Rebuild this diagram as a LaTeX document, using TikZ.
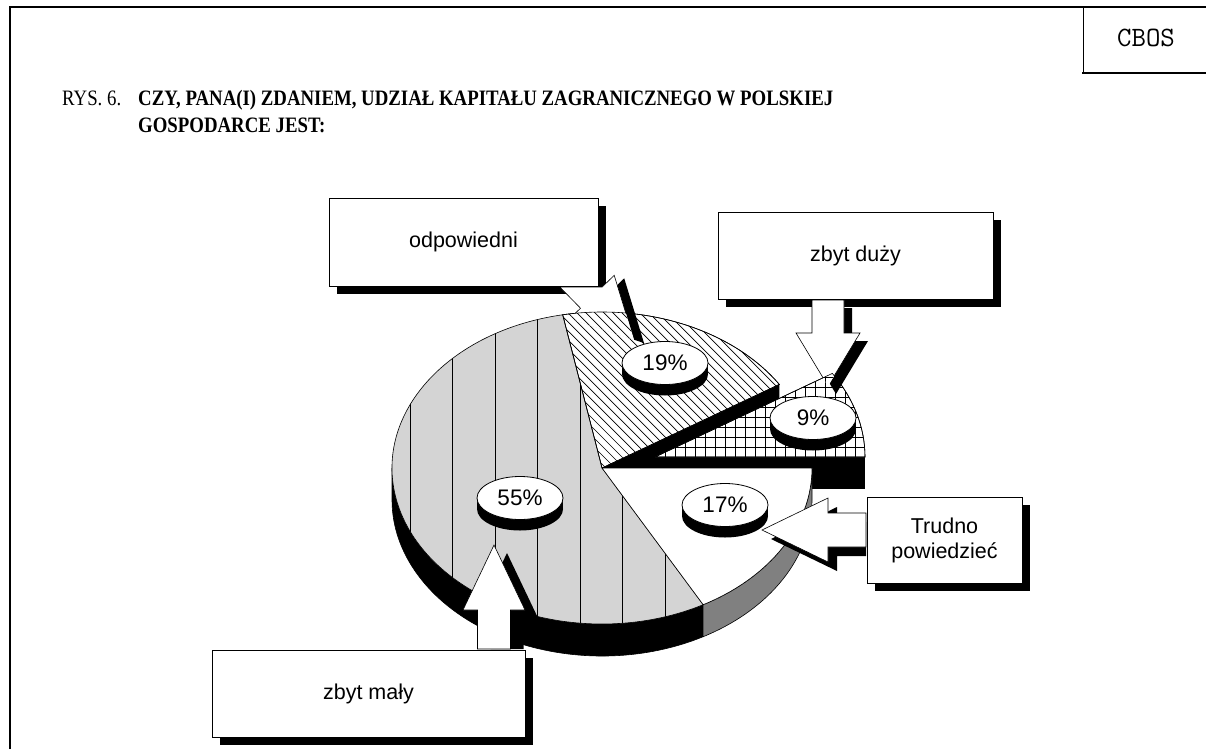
\documentclass[tikz,border=0pt]{standalone}
\usepackage{fontspec}
\setmainfont{Liberation Serif}
\setsansfont{Liberation Sans}
\usetikzlibrary{calc,shadows,shapes.geometric}

\tikzset{
  callout/.style={draw, fill=white, line width=0.8pt, inner sep=0pt, align=center,
    font=\sffamily\fontsize{21.5}{25}\selectfont,
    drop shadow={shadow xshift=8pt, shadow yshift=-8pt, fill=black, opacity=1}},
  pct/.style={ellipse, draw, fill=white, line width=0.8pt, inner sep=0pt,
    minimum width=86pt, minimum height=43pt, font=\sffamily\fontsize{22.5}{26}\selectfont},
  heading/.style={anchor=base west, inner sep=0pt, xscale=0.855, transform shape},
  blockarrow/.style={fill=white},
  arrowline/.style={draw, line width=0.6pt, line join=miter},
  arrowshade/.style={fill=black},
  slice/.style={draw, line width=0.6pt},
  hatchline/.style={line width=0.7pt}
}

% slice outlines (pixel units, y downwards)
\def\topNineteen{(602,468) -- ({602+210*cos(32.4)},{468-156*sin(32.4)}) arc[start angle=-32.4, end angle=-100.8, x radius=210, y radius=156] -- cycle}
\def\topNine{(655,457) -- (865,457) arc[start angle=0, end angle=-32.4, x radius=210, y radius=156] -- cycle}
\def\topFiftyFive{(602,468) -- ({602+210*cos(100.8)},{468-156*sin(100.8)}) arc[start angle=-100.8, end angle=-298.8, x radius=210, y radius=156] -- cycle}
\def\topSeventeen{(602,468) -- ({602+210*cos(298.8)},{468-156*sin(298.8)}) arc[start angle=-298.8, end angle=-360, x radius=210, y radius=156] -- cycle}

% block arrows, relative to their tips
\def\arrowOdp{(-74.2,-53) -- (-53.5,-31.8) -- (-64.2,-21.3) -- (0,0) -- (-19.8,-64.7) -- (-31.8,-53) -- cycle}
\def\arrowZd{(-16,-86) -- (-16,-53) -- (-32,-53) -- (0,0) -- (32,-53) -- (16,-53) -- (16,-86) -- cycle}
\def\arrowZm{(-16.5,104) -- (-16.5,65) -- (-31,65) -- (0,0) -- (31,65) -- (16.5,65) -- (16.5,104) -- cycle}
\def\arrowZmShade{(-16.5,96) -- (-16.5,65) -- (-31,65) -- (0,0) -- (31,65) -- (16.5,65) -- (16.5,96) -- cycle}
\def\arrowTp{(104,-17) -- (66,-17) -- (66,-32) -- (0,0) -- (66,32) -- (66,17) -- (104,17) -- cycle}
\def\arrowTpShade{(95,-17) -- (66,-17) -- (66,-32) -- (0,0) -- (66,32) -- (66,17) -- (95,17) -- cycle}

\begin{document}
\begin{tikzpicture}[x=1pt, y=-1pt]
\useasboundingbox (0,0) rectangle (1206,749);

% frame and heading
\draw[line width=2.2pt] (10,749) -- (10,7) -- (1206,7);
\draw[line width=1pt] (1083,7) -- (1083,73);
\draw[line width=2pt] (1082,73) -- (1206,73);
\node[font=\ttfamily\fontsize{28}{32}\selectfont] (cbos) at (1146,38) {CBOS};
\node[heading, font=\fontsize{22}{26}\selectfont] (rys) at (62,106) {RYS. 6.};
\node[heading, font=\bfseries\fontsize{22}{26}\selectfont] (title) at (138,106)
  {CZY, PANA(I) ZDANIEM, UDZIAŁ KAPITAŁU ZAGRANICZNEGO W POLSKIEJ};
\node[heading, font=\bfseries\fontsize{22}{26}\selectfont] (title2) at (138,132)
  {GOSPODARCE JEST:};

% answer boxes
\node[callout, minimum width=269pt, minimum height=88pt] (odp) at (463.5,242) {odpowiedni};
\node[callout, minimum width=275pt, minimum height=87pt] (zd) at (855.5,255.5) {zbyt duży};
\node[callout, minimum width=155pt, minimum height=86pt] (tp) at (944.5,540) {Trudno\\powiedzieć};
\node[callout, minimum width=313pt, minimum height=87pt] (zm) at (368.5,693.5) {zbyt mały};

% 19% slice
\fill (602,468) -- ({602+210*cos(32.4)},{468-156*sin(32.4)}) -- ++(0,32) -- (602,500) -- cycle;
\begin{scope}
  \clip \topNineteen;
  \fill[white] (540,300) rectangle (800,470);
  \foreach \i in {0,...,34} \draw[hatchline] ({420+9*\i},300) -- ++(200,200);
\end{scope}
\draw[slice] \topNineteen;

% 9% slice, pulled out
\fill (655,457) rectangle (865,489);
\begin{scope}
  \clip \topNine;
  \fill[white] (650,360) rectangle (870,460);
  \foreach \i in {0,...,21} \draw[hatchline] ({655+10*\i},360) -- ++(0,100);
  \foreach \i in {0,...,9} \draw[hatchline] (650,{457-10*\i}) -- ++(220,0);
\end{scope}
\draw[slice] \topNine;

% front rim
\draw[slice, fill=black] (392,468) arc[start angle=-180, end angle=-298.8, x radius=210, y radius=156]
  -- ++(0,32) arc[start angle=-298.8, end angle=-180, x radius=210, y radius=156] -- cycle;
\draw[slice, fill=black!50] ({602+210*cos(298.8)},{468-156*sin(298.8)}) arc[start angle=-298.8, end angle=-360, x radius=210, y radius=156]
  -- ++(0,32) arc[start angle=-360, end angle=-298.8, x radius=210, y radius=156] -- cycle;

% 55% and 17% slices
\begin{scope}
  \clip \topFiftyFive;
  \fill[black!17] (380,300) rectangle (720,640);
  \foreach \i in {0,...,6} \draw[line width=0.7pt] ({410+42.5*\i},300) -- ++(0,340);
\end{scope}
\draw[slice] \topFiftyFive;
\draw[slice, fill=white] \topSeventeen;

% arrow to 19%
\coordinate (t19) at (634,340);
\fill[arrowshade, shift={($(t19)+(10,3)$)}] \arrowOdp;
\fill[blockarrow, shift={(t19)}] \arrowOdp;
\begin{scope}
  \clip \topNineteen;
  \clip[shift={(t19)}] \arrowOdp;
  \fill[white] (540,250) rectangle (700,470);
  \foreach \i in {0,...,34} \draw[hatchline] ({420+9*\i},300) -- ++(200,200);
\end{scope}
\draw[slice] \topNineteen;
\begin{scope}
  \clip (540,250) -- (700,250) -- ({602+210*cos(62.2)},{468-156*sin(62.2)})
    arc[start angle=-62.2, end angle=-107.2, x radius=210, y radius=156] -- cycle;
  \draw[arrowline, shift={(t19)}] \arrowOdp;
\end{scope}

% arrow to 9%
\coordinate (t9) at (828,386);
\fill[arrowshade, shift={($(t9)+(8,8)$)}] \arrowZd;
\fill[blockarrow, shift={(t9)}] \arrowZd;
\begin{scope}
  \clip \topNine;
  \clip[shift={(t9)}] \arrowZd;
  \fill[white] (650,360) rectangle (870,460);
  \foreach \i in {0,...,21} \draw[hatchline] ({655+10*\i},360) -- ++(0,100);
  \foreach \i in {0,...,9} \draw[hatchline] (650,{457-10*\i}) -- ++(220,0);
\end{scope}
\draw[slice] \topNine;
\begin{scope}
  \clip (780,290) -- (870,290) -- (870,457) -- (865,457)
    arc[start angle=0, end angle=-32.4, x radius=210, y radius=156] -- (780,398.1) -- cycle;
  \draw[arrowline, shift={(t9)}] \arrowZd;
\end{scope}

% arrow to 55%
\coordinate (t55) at (494,545);
\fill[arrowshade, shift={($(t55)+(13,8)$)}] \arrowZmShade;
\draw[blockarrow, arrowline, shift={(t55)}] \arrowZm;

% arrow to 17%
\coordinate (t17) at (762,530);
\fill[arrowshade, shift={($(t17)+(9,9)$)}] \arrowTpShade;
\draw[blockarrow, arrowline, shift={(t17)}] \arrowTp;

% value labels
\foreach \nm/\xx/\yy/\txt in {l19/665/363/19, l9/813/418/9, l55/520/498/55, l17/725/505/17}{
  \fill ({\xx},{\yy+11}) ellipse[x radius=43, y radius=21.5];
  \fill ({\xx-43},{\yy}) rectangle ({\xx+43},{\yy+11});
  \node[pct] (\nm) at (\xx,\yy) {\txt\%};
}
\end{tikzpicture}
\end{document}
